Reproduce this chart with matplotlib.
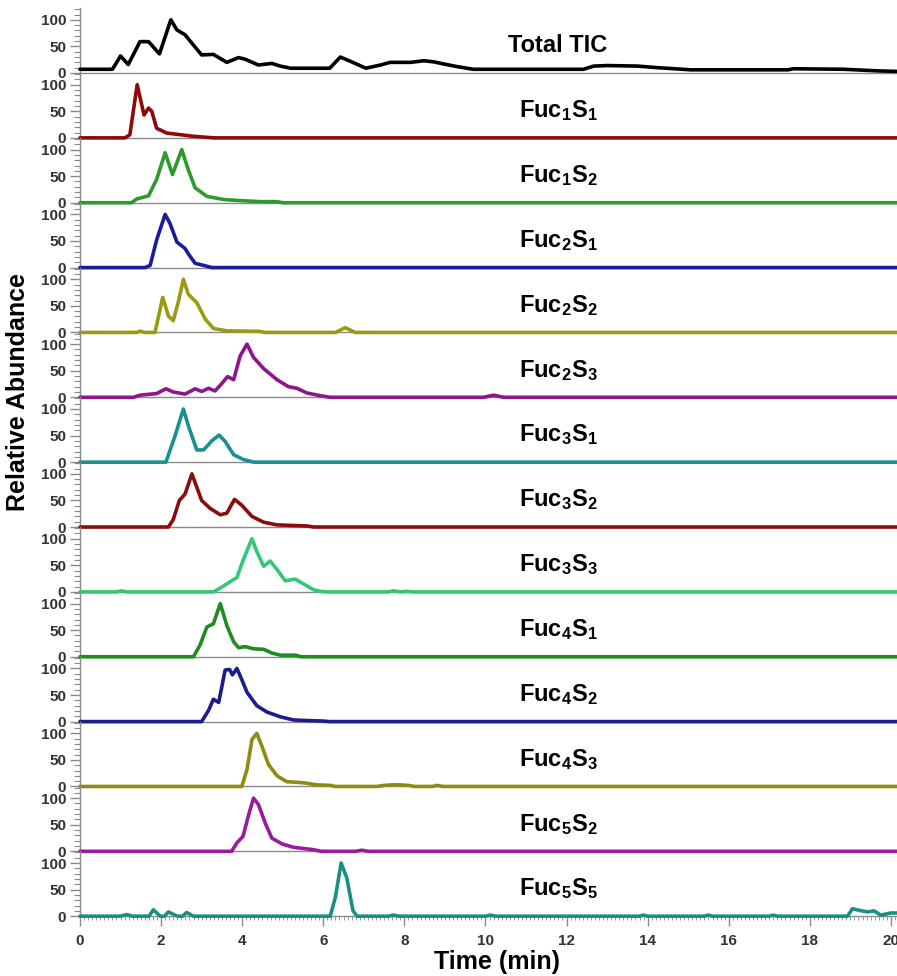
import matplotlib
matplotlib.use("Agg")
import matplotlib.pyplot as plt
from matplotlib.ticker import MultipleLocator, FixedLocator

plt.rcParams['font.family'] = ['Liberation Sans', 'DejaVu Sans']
plt.rcParams['font.weight'] = 'bold'
plt.rcParams['mathtext.fontset'] = 'custom'
plt.rcParams['mathtext.rm'] = 'Liberation Sans:bold'
plt.rcParams['mathtext.bf'] = 'Liberation Sans:bold'
plt.rcParams['mathtext.it'] = 'Liberation Sans:bold'

# ---------------- data ----------------
labels = ["Total TIC", r"Fuc$_1$S$_1$", r"Fuc$_1$S$_2$", r"Fuc$_2$S$_1$", r"Fuc$_2$S$_2$",
          r"Fuc$_2$S$_3$", r"Fuc$_3$S$_1$", r"Fuc$_3$S$_2$", r"Fuc$_3$S$_3$", r"Fuc$_4$S$_1$",
          r"Fuc$_4$S$_2$", r"Fuc$_4$S$_3$", r"Fuc$_5$S$_2$", r"Fuc$_5$S$_5$"]
colors = ["#000000", "#8E0A0A", "#2E9A2E", "#1C1C9A", "#9A9A14", "#8C168C", "#1A9090",
          "#8A0C0C", "#33C878", "#1F8C1F", "#1C1C8C", "#8C8C10", "#9A1A9A", "#1A9082"]

tic_t = [0.0, 0.8, 1.0, 1.19, 1.48, 1.69, 1.96, 2.24, 2.39, 2.59, 2.76, 3.0, 3.29, 3.62, 3.91,
         4.07, 4.4, 4.73, 4.94, 5.19, 6.16, 6.42, 6.67, 7.05, 7.41, 7.65, 8.15, 8.48, 8.72,
         8.97, 9.3, 9.7, 12.42, 12.67, 13.0, 13.75, 14.25, 15.06, 17.46, 17.6, 18.84, 19.68, 20.15]
tic_v = [7, 7, 32, 16, 59, 59, 36, 100, 81, 72, 56, 34, 35, 20, 29,
         26, 15, 18, 13, 9, 9, 30, 22, 9, 15, 20, 20, 23, 21,
         17, 12, 7, 7, 13, 14, 13, 10, 6, 6, 8, 7, 4, 3]

f1s1_t = [0.0, 1.11, 1.23, 1.41, 1.58, 1.69, 1.77, 1.89, 2.14, 2.47, 2.79, 3.13, 3.3, 20.15]
f1s1_v = [0, 0, 6, 100, 43, 56, 50, 18, 9, 6, 3, 1, 0, 0]

f1s2_t = [0.0, 1.27, 1.4, 1.69, 1.89, 2.1, 2.28, 2.51, 2.67, 2.84, 3.13, 3.54, 3.95, 4.44, 4.86, 5.0, 20.15]
f1s2_v = [0, 0, 7, 13, 44, 94, 53, 100, 62, 28, 12, 6, 4, 2, 2, 0, 0]

f2s1_t = [0.0, 1.6, 1.73, 1.89, 2.1, 2.22, 2.39, 2.59, 2.67, 2.84, 3.13, 3.25, 20.15]
f2s1_v = [0, 0, 4, 52, 100, 83, 48, 36, 26, 8, 2.5, 0, 0]

f2s2_t = [0.0, 1.4, 1.48, 1.6, 1.85, 2.04, 2.18, 2.3, 2.43, 2.55, 2.67, 2.88, 3.09, 3.29,
          3.62, 4.44, 4.55, 6.3, 6.54, 6.79, 20.15]
f2s2_v = [0, 0, 2.5, 0, 0, 66, 31, 22, 59, 100, 72, 56, 25, 7.5,
          3, 2, 0, 0, 9, 0, 0]

f2s3_t = [0.0, 1.32, 1.48, 1.89, 2.12, 2.3, 2.59, 2.84, 3.0, 3.17, 3.33, 3.5, 3.64, 3.79,
          3.95, 4.12, 4.28, 4.53, 4.86, 5.14, 5.35, 5.6, 5.93, 6.17, 9.95, 10.2, 10.45, 20.15]
f2s3_v = [0, 0, 4, 7, 16, 10, 6, 16, 11, 17, 12, 26, 39, 33,
          78, 100, 75, 54, 33, 20, 17, 8, 3, 0, 0, 4, 0, 0]

f3s1_t = [0.0, 2.12, 2.35, 2.55, 2.67, 2.88, 3.05, 3.25, 3.43, 3.58, 3.79, 4.03, 4.28, 20.15]
f3s1_v = [0, 0, 51, 100, 69, 23, 23, 40, 51, 39, 14, 5, 0, 0]

f3s2_t = [0.0, 2.18, 2.3, 2.45, 2.59, 2.76, 2.88, 3.0, 3.21, 3.46, 3.62, 3.81, 3.99, 4.24,
          4.53, 4.86, 5.6, 5.76, 20.15]
f3s2_v = [0, 0, 14, 50, 62, 100, 75, 50, 35, 23, 26, 52, 41, 20,
          9, 4, 2, 0, 0]

f3s3_t = [0.0, 0.9, 1.03, 1.15, 3.29, 3.5, 3.74, 3.87, 4.03, 4.24, 4.36, 4.53, 4.69, 4.86,
          5.06, 5.31, 5.51, 5.76, 5.93, 6.1, 7.6, 7.73, 7.9, 8.06, 8.2, 20.15]
f3s3_v = [0, 0, 2, 0, 0, 9, 21, 27, 61, 100, 76, 48, 58, 42,
          21, 24, 15, 4, 1, 0, 0, 2, 0, 1, 0, 0]

f4s1_t = [0.0, 2.8, 2.96, 3.13, 3.29, 3.46, 3.62, 3.79, 3.91, 4.07, 4.28, 4.53, 4.73, 4.94,
          5.31, 5.45, 20.15]
f4s1_v = [0, 0, 22, 56, 62, 100, 59, 28, 17, 19, 15, 14, 7, 3,
          3, 0, 0]

f4s2_t = [0.0, 3.0, 3.17, 3.29, 3.42, 3.58, 3.69, 3.76, 3.87, 3.99, 4.12, 4.36, 4.61, 4.94,
          5.27, 5.6, 6.0, 6.15, 20.15]
f4s2_v = [0, 0, 21, 42, 36, 97, 98, 88, 100, 79, 55, 30, 18, 9,
          3, 2, 1, 0, 0]

f4s3_t = [0.0, 3.99, 4.12, 4.24, 4.36, 4.49, 4.65, 4.86, 5.1, 5.51, 5.84, 6.17, 6.3, 7.33,
          7.5, 7.7, 7.9, 8.1, 8.25, 8.7, 8.8, 8.95, 20.15]
f4s3_v = [0, 0, 32, 88, 100, 75, 41, 20, 9, 7, 3, 2, 0, 0,
          2, 3, 3, 2, 0, 0, 2, 0, 0]

f5s2_t = [0.0, 3.74, 3.87, 4.02, 4.16, 4.28, 4.4, 4.57, 4.73, 4.98, 5.27, 5.76, 5.95, 6.8,
          6.95, 7.1, 20.15]
f5s2_v = [0, 0, 16, 28, 69, 100, 88, 53, 25, 14, 7.5, 3, 0, 0,
          2, 0, 0]

f5s5_t = [0.0, 1.0, 1.15, 1.3, 1.7, 1.81, 1.98, 2.08, 2.18, 2.4, 2.53, 2.63, 2.8, 6.17,
          6.3, 6.44, 6.58, 6.73, 6.83, 7.6, 7.73, 7.86, 10.0, 10.12, 10.25, 13.8, 13.9,
          14.0, 15.4, 15.5, 15.6, 17.0, 17.1, 17.2, 18.93, 19.05, 19.22, 19.42, 19.58,
          19.75, 20.0, 20.15]
f5s5_v = [0, 0, 3, 0, 0, 12, 0, 0, 8, 0, 0, 7, 0, 0,
          36, 100, 72, 11, 0, 0, 2, 0, 0, 2, 0, 0, 2,
          0, 0, 2, 0, 0, 2, 0, 0, 14, 11, 8, 10,
          2, 6, 6]

series = [(tic_t, tic_v), (f1s1_t, f1s1_v), (f1s2_t, f1s2_v), (f2s1_t, f2s1_v),
          (f2s2_t, f2s2_v), (f2s3_t, f2s3_v), (f3s1_t, f3s1_v), (f3s2_t, f3s2_v),
          (f3s3_t, f3s3_v), (f4s1_t, f4s1_v), (f4s2_t, f4s2_v), (f4s3_t, f4s3_v),
          (f5s2_t, f5s2_v), (f5s5_t, f5s5_v)]

x_ticks = [0, 2, 4, 6, 8, 10, 12, 14, 16, 18, 20]
y_ticks = [0, 50, 100]

# ---------------- layout ----------------
W, H = 897, 976
fig = plt.figure(figsize=(W / 100, H / 100), dpi=100)
left_px, width_px = 80, 817
first_base, step = 73, 64.86
n = len(series)
grey = "#8a8a8a"

for i, ((t, v), lab, col) in enumerate(zip(series, labels, colors)):
    base = first_base + i * step
    ax = fig.add_axes([left_px / W, (H - base) / H, width_px / W, step / H])
    ax.plot(t, v, color=col, lw=2.6, solid_joinstyle='round', solid_capstyle='round',
            clip_on=False, zorder=3)
    ax.set_xlim(0, 20.15)
    ax.set_ylim(0, 122)
    ax.patch.set_visible(False)
    for s in ("top", "right"):
        ax.spines[s].set_visible(False)
    for s in ("left", "bottom"):
        ax.spines[s].set_color(grey)
        ax.spines[s].set_linewidth(1.0)
    ax.yaxis.set_major_locator(FixedLocator(y_ticks))
    ax.yaxis.set_minor_locator(MultipleLocator(10))
    ax.tick_params(axis='y', which='major', direction='out', length=7, width=1, color=grey,
                   labelsize=11, labelcolor='#333333', pad=3)
    ax.tick_params(axis='y', which='minor', direction='out', length=4, width=0.8, color=grey)
    if i < n - 1:
        ax.tick_params(axis='x', which='both', bottom=False, labelbottom=False)
    else:
        ax.xaxis.set_major_locator(FixedLocator(x_ticks))
        ax.xaxis.set_minor_locator(MultipleLocator(0.1))
        ax.tick_params(axis='x', which='major', direction='out', length=7, width=1, color=grey,
                       labelsize=11, labelcolor='#333333', pad=6)
        ax.tick_params(axis='x', which='minor', direction='out', length=3, width=0.6, color=grey)
    ax.text(0.585, 0.42, lab, transform=ax.transAxes, ha='center', va='center',
            fontsize=17, fontweight='bold', color='black', zorder=5)

fig.text(18 / W, 1 - 392 / H, "Relative Abundance", rotation=90, ha='center', va='center',
         fontsize=18, fontweight='bold')
fig.text(497 / W, 1 - 962 / H, "Time (min)", ha='center', va='center',
         fontsize=18, fontweight='bold')

fig.savefig("out.png", dpi=100)
